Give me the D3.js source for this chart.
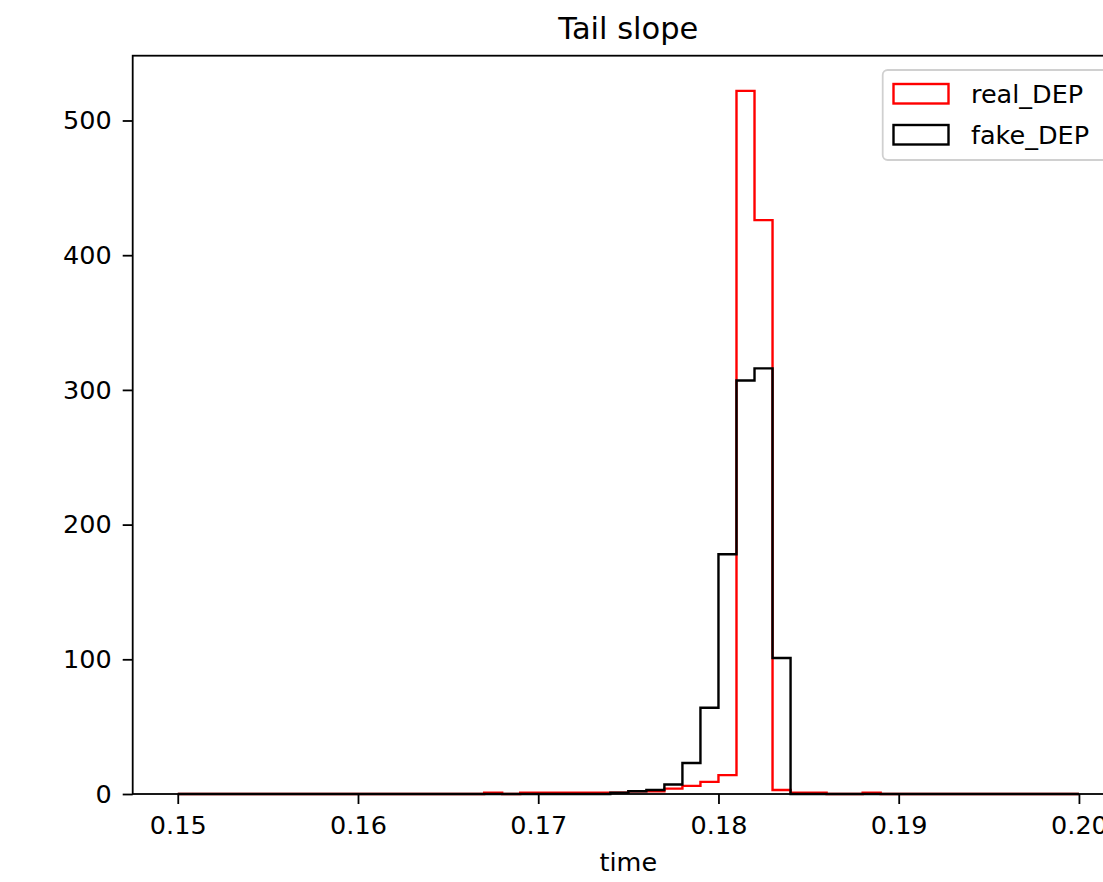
<!DOCTYPE html>
<html>
<head>
<meta charset="utf-8">
<script src="https://cdn.jsdelivr.net/npm/d3@7"></script>
<style>
    body { margin: 0; background: white; }
    svg text { font-family: "DejaVu Sans", sans-serif; fill: black; }
</style>
</head>
<body>
<div id="chart"></div>
<script>
const width = 1103,
    height = 882;

// axes box in pixels
const axLeft = 132.7,
    axRight = 1124,
    axTop = 55.7,
    axBottom = 794;

// histogram: 50 bins of 0.001 from 0.15 to 0.20
const binStart = 0.15,
    binWidth = 0.001;
const realCounts = [
    0, 0, 0, 0, 0, 0, 0, 0, 0, 0,
    0, 0, 0, 0, 0, 0, 0, 1, 0, 1,
    1, 1, 1, 1, 1, 2, 2, 4, 6, 9,
    14, 522, 426, 3, 1, 1, 0, 0, 1, 0,
    0, 0, 0, 0, 0, 0, 0, 0, 0, 0
];
const fakeCounts = [
    0, 0, 0, 0, 0, 0, 0, 0, 0, 0,
    0, 0, 0, 0, 0, 0, 0, 0, 0, 0,
    0, 0, 0, 0, 1, 2, 3, 7, 23, 64,
    178, 307, 316, 101, 0, 0, 0, 0, 0, 0,
    0, 0, 0, 0, 0, 0, 0, 0, 0, 0
];
const seriesNames = ["real_DEP", "fake_DEP"];
const seriesColors = ["red", "black"];
const xTicks = [0.15, 0.16, 0.17, 0.18, 0.19, 0.2];
const yTicks = [0, 100, 200, 300, 400, 500];

const svg = d3
    .select("#chart")
    .append("svg")
    .attr("width", width)
    .attr("height", height)
    .style("background", "white");

const xScale = d3.scaleLinear().domain([0.1475, 0.2025]).range([axLeft, axRight]);
const yMax = d3.max(realCounts.concat(fakeCounts)) * 1.05;
const yScale = d3.scaleLinear().domain([0, yMax]).range([axBottom, axTop]);

// step outline like matplotlib histtype="step"
function stepPoints(counts) {
    const pts = [[binStart, 0]];
    counts.forEach((c, i) => {
        pts.push([binStart + i * binWidth, c]);
        pts.push([binStart + (i + 1) * binWidth, c]);
    });
    pts.push([binStart + counts.length * binWidth, 0]);
    return pts;
}
const line = d3
    .line()
    .x((d) => xScale(d[0]))
    .y((d) => yScale(d[1]));

[realCounts, fakeCounts].forEach((counts, i) => {
    svg.append("path")
        .attr("d", line(stepPoints(counts)))
        .attr("fill", "none")
        .attr("stroke", seriesColors[i])
        .attr("stroke-width", 2.4)
        .attr("stroke-linejoin", "miter");
});

// axes
const fmtX = d3.format(".2f");
const xAxis = d3.axisBottom(xScale).tickValues(xTicks).tickFormat(fmtX).tickSize(10).tickPadding(12);
const yAxis = d3.axisLeft(yScale).tickValues(yTicks).tickFormat(d3.format("d")).tickSize(10).tickPadding(11);

const gx = svg.append("g").attr("transform", "translate(0," + axBottom + ")").call(xAxis);
const gy = svg.append("g").attr("transform", "translate(" + axLeft + ",0)").call(yAxis);
[gx, gy].forEach((g) => {
    g.select(".domain").remove();
    g.selectAll(".tick line").attr("stroke", "black").attr("stroke-width", 1.8);
    g.selectAll(".tick text").style("font-size", "25.5px").attr("fill", "black");
});

// spines
svg.append("rect")
    .attr("x", axLeft)
    .attr("y", axTop)
    .attr("width", axRight - axLeft)
    .attr("height", axBottom - axTop)
    .attr("fill", "none")
    .attr("stroke", "black")
    .attr("stroke-width", 1.8);

// title and label
svg.append("text")
    .attr("x", (axLeft + axRight) / 2)
    .attr("y", 39)
    .attr("text-anchor", "middle")
    .style("font-size", "30.5px")
    .text("Tail slope");
svg.append("text")
    .attr("x", (axLeft + axRight) / 2)
    .attr("y", 871)
    .attr("text-anchor", "middle")
    .style("font-size", "25.5px")
    .text("time");

// legend
const legend = svg.append("g");
legend.append("rect")
    .attr("x", 882.7)
    .attr("y", 70)
    .attr("width", 260)
    .attr("height", 90)
    .attr("rx", 5)
    .attr("fill", "white")
    .attr("fill-opacity", 0.8)
    .attr("stroke", "#d0d0d0")
    .attr("stroke-width", 1.8);
seriesNames.forEach((name, i) => {
    legend.append("rect")
        .attr("x", 893.5)
        .attr("y", 84 + i * 41)
        .attr("width", 55)
        .attr("height", 19.5)
        .attr("fill", "none")
        .attr("stroke", seriesColors[i])
        .attr("stroke-width", 2.4);
    legend.append("text")
        .attr("x", 971)
        .attr("y", 103 + i * 40.5)
        .style("font-size", "25.5px")
        .text(name);
});
</script>
</body>
</html>
